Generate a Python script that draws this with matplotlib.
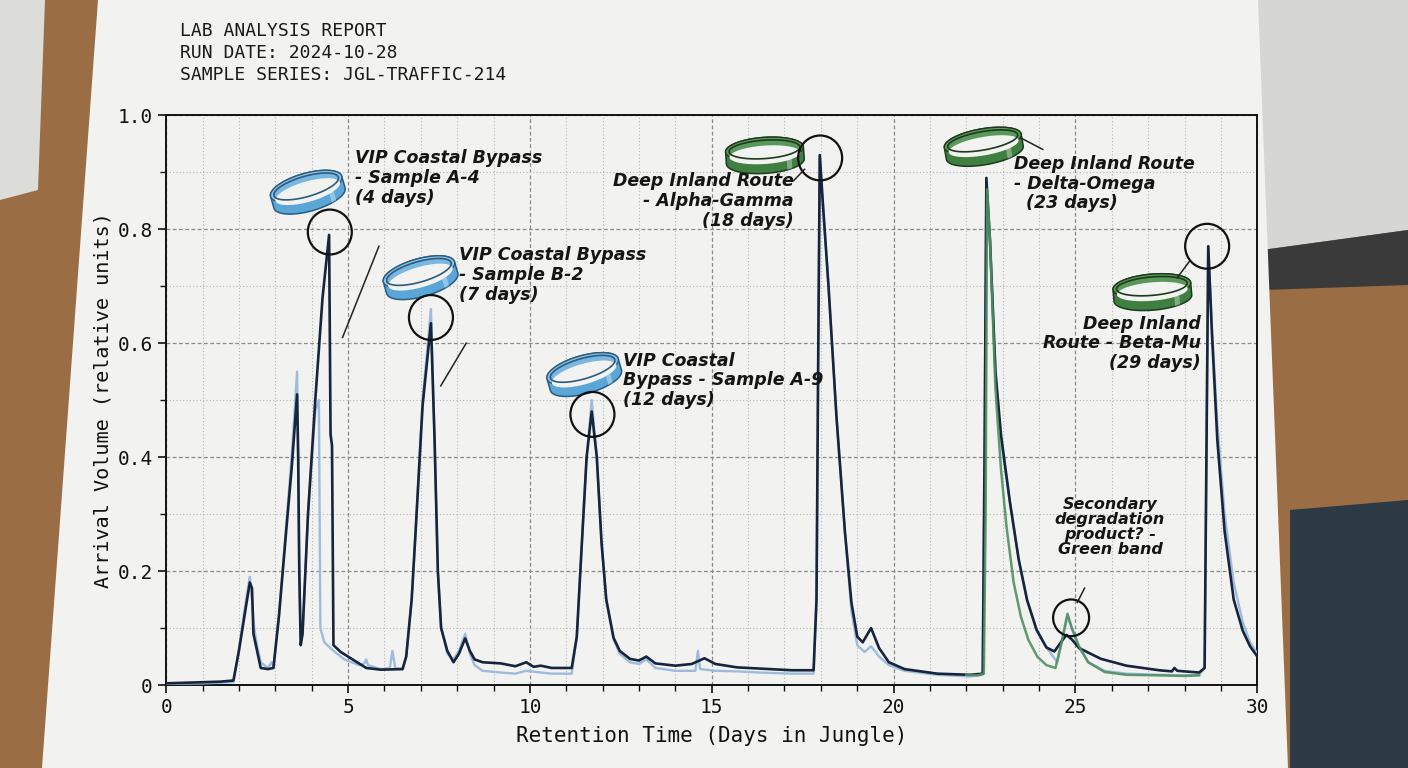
import numpy as np
import matplotlib
matplotlib.use("Agg")
import matplotlib.pyplot as plt
from matplotlib import transforms
from matplotlib.patches import Ellipse, Polygon
from matplotlib.ticker import MultipleLocator, FuncFormatter

# ---------------- data ----------------
dark_days = [0.0, 0.5, 1.0, 1.5, 1.85, 2.0, 2.15, 2.3, 2.36, 2.4, 2.5, 2.6, 2.8, 2.95,
             3.1, 3.3, 3.45, 3.6, 3.63, 3.66, 3.7, 3.75, 3.9, 4.1, 4.3, 4.48, 4.52, 4.56,
             4.6, 4.8, 5.2, 5.5, 5.9, 6.5, 6.6, 6.75, 6.85, 7.05, 7.28, 7.38, 7.47, 7.56,
             7.73, 7.9, 8.05, 8.22, 8.35, 8.48, 8.7, 9.2, 9.6, 9.9, 10.1, 10.3, 10.6, 11.15,
             11.29, 11.43, 11.56, 11.7, 11.84, 11.97, 12.1, 12.3, 12.47, 12.75, 13.0, 13.2,
             13.45, 14.0, 14.45, 14.8, 15.1, 15.7, 16.3, 17.2, 17.8, 17.88, 17.93, 17.97,
             18.05, 18.21, 18.43, 18.66, 18.84, 19.0, 19.15, 19.38, 19.6, 19.87, 20.3, 21.2,
             22.1, 22.45, 22.5, 22.55, 22.65, 22.8, 22.95, 23.2, 23.44, 23.67, 23.93, 24.2,
             24.42, 24.6, 24.75, 24.9, 25.1, 25.35, 25.7, 26.4, 27.3, 27.65, 27.72, 27.8,
             28.4, 28.55, 28.6, 28.65, 28.75, 28.9, 29.1, 29.35, 29.6, 29.8, 30.0]
dark_vol = [0.003, 0.004, 0.005, 0.006, 0.008, 0.06, 0.12, 0.18, 0.17, 0.09, 0.06, 0.03, 0.028, 0.03,
            0.12, 0.27, 0.38, 0.51, 0.40, 0.20, 0.07, 0.09, 0.30, 0.50, 0.68, 0.79, 0.44, 0.42,
            0.07, 0.058, 0.042, 0.030, 0.027, 0.028, 0.05, 0.15, 0.26, 0.49, 0.635, 0.43, 0.20, 0.10,
            0.06, 0.04, 0.055, 0.082, 0.06, 0.045, 0.04, 0.038, 0.033, 0.04, 0.032, 0.034, 0.03, 0.03,
            0.085, 0.25, 0.40, 0.48, 0.40, 0.25, 0.15, 0.083, 0.06, 0.046, 0.043, 0.05,
            0.038, 0.034, 0.037, 0.047, 0.037, 0.031, 0.029, 0.026, 0.026, 0.15, 0.60, 0.93,
            0.85, 0.70, 0.47, 0.27, 0.145, 0.085, 0.075, 0.10, 0.065, 0.04, 0.028, 0.02,
            0.018, 0.02, 0.40, 0.89, 0.78, 0.55, 0.44, 0.32, 0.22, 0.149, 0.097, 0.066,
            0.059, 0.075, 0.088, 0.08, 0.065, 0.057, 0.046, 0.034, 0.026, 0.024, 0.03, 0.025,
            0.022, 0.03, 0.40, 0.77, 0.62, 0.43, 0.27, 0.15, 0.095, 0.068, 0.05]

light_days = [0.0, 1.0, 1.85, 2.0, 2.15, 2.3, 2.36, 2.42, 2.5, 2.6, 2.8, 2.9, 2.95, 3.1, 3.3,
              3.45, 3.6, 3.63, 3.66, 3.7, 3.75, 3.9, 4.1, 4.2, 4.24, 4.35, 4.6, 4.9, 5.3, 5.45,
              5.5, 5.55, 5.9, 6.15, 6.22, 6.3, 6.5, 6.6, 6.75, 6.85, 7.05, 7.28, 7.38, 7.47,
              7.56, 7.73, 7.9, 8.05, 8.22, 8.35, 8.48, 8.7, 9.2, 9.6, 9.9, 10.3, 10.6, 11.15,
              11.29, 11.43, 11.56, 11.7, 11.84, 11.97, 12.1, 12.3, 12.47, 12.75, 13.0, 13.2,
              13.45, 14.0, 14.55, 14.62, 14.68, 15.1, 15.7, 16.3, 17.2, 17.8, 17.88, 17.93,
              17.97, 18.05, 18.21, 18.43, 18.66, 18.84, 19.0, 19.2, 19.38, 19.6, 19.87, 20.3,
              21.2, 22.1, 22.45, 22.5, 22.55, 22.65, 22.8, 22.95, 23.2, 23.44, 23.67, 23.93,
              24.2, 24.5, 24.78, 25.1, 25.35, 25.8, 26.4, 27.3, 28.0, 28.4, 28.55, 28.6, 28.65,
              28.75, 28.9, 29.1, 29.35, 29.6, 29.8, 30.0]
light_vol = [0.002, 0.003, 0.005, 0.06, 0.13, 0.19, 0.15, 0.10, 0.07, 0.04, 0.03, 0.04, 0.032, 0.12, 0.28,
             0.40, 0.55, 0.40, 0.20, 0.075, 0.09, 0.30, 0.48, 0.50, 0.10, 0.075, 0.06, 0.045, 0.035, 0.038,
             0.045, 0.035, 0.028, 0.03, 0.06, 0.03, 0.028, 0.05, 0.15, 0.26, 0.50, 0.66, 0.43, 0.20,
             0.10, 0.055, 0.045, 0.06, 0.09, 0.055, 0.035, 0.025, 0.022, 0.02, 0.025, 0.022, 0.02, 0.02,
             0.085, 0.25, 0.40, 0.50, 0.40, 0.25, 0.15, 0.08, 0.055, 0.04, 0.037, 0.045,
             0.03, 0.025, 0.025, 0.06, 0.028, 0.025, 0.024, 0.022, 0.02, 0.02, 0.15, 0.60,
             0.93, 0.85, 0.70, 0.47, 0.27, 0.13, 0.07, 0.058, 0.068, 0.05, 0.035, 0.025,
             0.018, 0.015, 0.018, 0.40, 0.88, 0.78, 0.55, 0.43, 0.32, 0.22, 0.149, 0.097,
             0.066, 0.04, 0.12, 0.065, 0.04, 0.025, 0.02, 0.018, 0.017, 0.018, 0.03, 0.40, 0.77,
             0.63, 0.46, 0.30, 0.18, 0.11, 0.075, 0.055]

green_days = [22.0, 22.3, 22.48, 22.53, 22.57, 22.65, 22.8, 22.95, 23.1, 23.3, 23.5, 23.7,
              23.95, 24.2, 24.45, 24.6, 24.78, 24.9, 25.09, 25.35, 25.8, 26.4, 27.3, 28.0, 28.4]
green_vol = [0.018, 0.017, 0.02, 0.30, 0.87, 0.78, 0.52, 0.38, 0.28, 0.18, 0.12, 0.08,
             0.05, 0.035, 0.03, 0.07, 0.125, 0.10, 0.069, 0.04, 0.023, 0.018, 0.017, 0.016, 0.017]

x_major_ticks = [0, 5, 10, 15, 20, 25, 30]
y_major_ticks = [0.0, 0.2, 0.4, 0.6, 0.8, 1.0]

header_lines = ["LAB ANALYSIS REPORT", "RUN DATE: 2024-10-28", "SAMPLE SERIES: JGL-TRAFFIC-214"]
x_label = "Retention Time (Days in Jungle)"
y_label = "Arrival Volume (relative units)"

# ---------------- figure ----------------
W, H = 1408, 768
fig = plt.figure(figsize=(W / 100, H / 100), dpi=100)
fig.patch.set_facecolor("#9a6d44")

def fpoly(pts, color):
    p = Polygon([(x / W, 1 - y / H) for x, y in pts], closed=True, transform=fig.transFigure,
                fc=color, ec="none", zorder=-10)
    fig.patches.append(p)

# surroundings of the sheet (photo backdrop)
fpoly([(0, 0), (45, 0), (38, 190), (0, 200)], "#dcdcd8")
fpoly([(1255, 0), (1408, 0), (1408, 230), (1262, 250)], "#d6d6d2")
fpoly([(1262, 250), (1408, 230), (1408, 285), (1264, 290)], "#3a3a3a")
fpoly([(1290, 510), (1408, 500), (1408, 768), (1290, 768)], "#2d3945")
# the sheet of paper
paper = "#f2f2f0"
fpoly([(98, 0), (1258, 0), (1288, 768), (42, 768)], paper)

ax = fig.add_axes([0.118, 0.108, 0.775, 0.742], zorder=1)
ax.set_facecolor(paper)

ax.plot(light_days, light_vol, color="#9dbcdc", lw=1.7, zorder=3)
ax.plot(dark_days, dark_vol, color="#16243d", lw=1.9, zorder=4)
ax.plot(green_days, green_vol, color="#4f9060", lw=1.8, zorder=5, alpha=0.9)

ax.set_xlim(0, 30)
ax.set_ylim(0, 1.0)
ax.set_xticks(x_major_ticks)
ax.set_yticks(y_major_ticks)
ax.xaxis.set_minor_locator(MultipleLocator(1))
ax.yaxis.set_minor_locator(MultipleLocator(0.1))
ax.yaxis.set_major_formatter(FuncFormatter(lambda v, p: "0" if abs(v) < 1e-9 else f"{v:.1f}"))
ax.grid(which="major", color="#8a8a8a", ls=(0, (3, 2)), lw=0.9)
ax.grid(which="minor", color="#b5b5b5", ls=(0, (1, 2)), lw=0.8)
ax.set_axisbelow(True)
for s in ax.spines.values():
    s.set_color("#111111")
    s.set_linewidth(1.4)
ax.tick_params(which="major", direction="out", length=6, width=1.2, colors="#111111",
               labelsize=14)
ax.tick_params(which="minor", direction="out", length=4, width=1.0, colors="#111111")
for lab in ax.get_xticklabels() + ax.get_yticklabels():
    lab.set_family("DejaVu Sans Mono")
ax.set_xlabel(x_label, family="DejaVu Sans Mono", fontsize=15, color="#111111", labelpad=6)
ax.set_ylabel(y_label, family="DejaVu Sans Mono", fontsize=14.5, color="#111111", labelpad=4)

fig.text(180 / W, 1 - 22 / H, "\n".join(header_lines), family="DejaVu Sans Mono", fontsize=13,
         color="#1a1a1a", va="top", ha="left", linespacing=1.3)

# ---------------- annotations ----------------
hand = dict(family="DejaVu Sans", style="oblique", fontweight="bold", color="#151515")

def anchor(x, y):
    return fig.dpi_scale_trans + transforms.ScaledTranslation(x, y, ax.transData)

def ring(x, y, band, rim, wall, edge, a=0.37, b=0.13, h=0.12, angle=14):
    tr = anchor(x, y)
    th = np.deg2rad(angle)

    def rot(px, py):
        return np.c_[px * np.cos(th) - py * np.sin(th), px * np.sin(th) + py * np.cos(th)]

    tu = np.linspace(0, np.pi, 80)
    tl = np.linspace(np.pi, 2 * np.pi, 80)
    bx = np.concatenate([a * np.cos(tu), a * np.cos(tl)])
    by = np.concatenate([b * np.sin(tu), b * np.sin(tl) - h])
    ax.add_patch(Polygon(rot(bx, by), closed=True, transform=tr, fc=band, ec=edge, lw=1.1,
                         zorder=8, clip_on=False))
    t = np.linspace(0, 2 * np.pi, 160)
    ax.add_patch(Polygon(rot(a * np.cos(t), b * np.sin(t)), closed=True, transform=tr, fc=rim,
                         ec=edge, lw=1.0, zorder=9, clip_on=False))
    ai, bi = a - 0.035, b - 0.028
    inner = Polygon(rot(ai * np.cos(t), bi * np.sin(t)), closed=True, transform=tr, fc=wall,
                    ec="none", zorder=10, clip_on=False)
    ax.add_patch(inner)
    hole = Polygon(rot(ai * np.cos(t), bi * np.sin(t) - h * 0.45), closed=True, transform=tr,
                   fc=paper, ec="none", zorder=11, clip_on=False)
    ax.add_patch(hole)
    hole.set_clip_path(inner)
    ax.add_patch(Polygon(rot(ai * np.cos(t), bi * np.sin(t)), closed=True, transform=tr,
                         fill=False, ec=edge, lw=1.2, zorder=12, clip_on=False))
    sx = np.array([0.55, 0.68, 0.68, 0.55]) * a
    sy0 = -b * np.sqrt(np.clip(1 - (sx / a) ** 2, 0, 1))
    sy = sy0 + np.array([0.0, 0.0, -h, -h])
    ax.add_patch(Polygon(rot(sx, sy), closed=True, transform=tr, fc="white", alpha=0.35,
                         ec="none", zorder=9, clip_on=False))

def blue_ring(x, y, angle=16):
    ring(x, y, "#5aa6d8", "#8cc4ea", "#79b6e0", "#2c5c7e", angle=angle)

def green_ring(x, y, angle=8):
    ring(x, y, "#3f7f41", "#5b9b57", "#5a975a", "#1d3a1e", a=0.39, b=0.12, h=0.12, angle=angle)

def hand_circle(x, y, d=0.44):
    ax.add_patch(Ellipse((0, 0), d, d * 1.02, transform=anchor(x, y), fill=False, ec="#111111",
                         lw=1.6, zorder=13, clip_on=False))

def leader(x0, y0, x1, y1):
    ax.plot([x0, x1], [y0, y1], color="#222222", lw=1.1, zorder=13, clip_on=False)

fs = 12.5
ls = 1.12
# VIP Coastal Bypass - Sample A-4
blue_ring(3.85, 0.875)
hand_circle(4.5, 0.795)
ax.text(5.2, 0.94, "VIP Coastal Bypass\n- Sample A-4\n(4 days)", fontsize=fs, va="top",
        ha="left", linespacing=ls, zorder=14, **hand)
leader(5.85, 0.77, 4.85, 0.61)

# VIP Coastal Bypass - Sample B-2
blue_ring(6.95, 0.725)
hand_circle(7.28, 0.645)
ax.text(8.05, 0.77, "VIP Coastal Bypass\n- Sample B-2\n(7 days)", fontsize=fs, va="top",
        ha="left", linespacing=ls, zorder=14, **hand)
leader(8.25, 0.6, 7.55, 0.525)

# VIP Coastal Bypass - Sample A-9
blue_ring(11.45, 0.555)
hand_circle(11.72, 0.475)
ax.text(12.55, 0.585, "VIP Coastal\nBypass - Sample A-9\n(12 days)", fontsize=fs, va="top",
        ha="left", linespacing=ls, zorder=14, **hand)

# Deep Inland Route - Alpha-Gamma
green_ring(16.45, 0.94, angle=4)
hand_circle(17.98, 0.925)
ax.text(17.25, 0.9, "Deep Inland Route\n- Alpha-Gamma\n(18 days)", fontsize=fs, va="top",
        ha="right", multialignment="right", linespacing=ls, zorder=14, **hand)
leader(17.55, 0.905, 17.25, 0.885)

# Deep Inland Route - Delta-Omega
green_ring(22.45, 0.955, angle=10)
ax.text(23.3, 0.93, "Deep Inland Route\n- Delta-Omega\n  (23 days)", fontsize=fs, va="top",
        ha="left", linespacing=ls, zorder=14, **hand)
leader(23.5, 0.96, 24.1, 0.94)

# Deep Inland Route - Beta-Mu
green_ring(27.1, 0.7, angle=5)
hand_circle(28.62, 0.77)
ax.text(28.45, 0.65, "Deep Inland\nRoute - Beta-Mu\n(29 days)", fontsize=fs, va="top",
        ha="right", multialignment="right", linespacing=ls, zorder=14, **hand)
leader(28.15, 0.745, 27.8, 0.715)

# Secondary degradation product
hand_circle(24.88, 0.118, d=0.36)
ax.text(25.95, 0.33, "Secondary\ndegradation\nproduct? -\nGreen band", fontsize=11.5,
        va="top", ha="center", multialignment="center", linespacing=1.0, zorder=14, **hand)
leader(25.05, 0.145, 25.25, 0.17)

fig.savefig("out.png", dpi=100, facecolor=fig.get_facecolor())
